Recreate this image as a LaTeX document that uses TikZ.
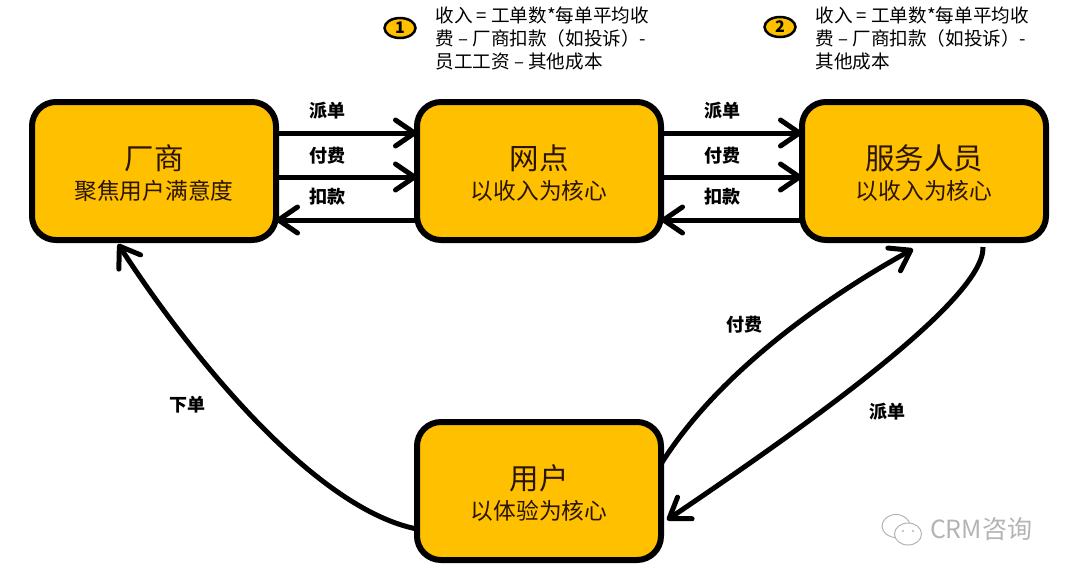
\documentclass[tikz,border=0pt]{standalone}
\usepackage{fontspec}
\setmainfont{Noto Sans CJK SC}
\usetikzlibrary{positioning,arrows.meta,shapes.geometric}
\definecolor{hubyellow}{HTML}{FFC000}
\definecolor{hubink}{HTML}{2A1500}
\definecolor{markgray}{HTML}{B4B4B4}
\newcommand{\fs}[1]{\fontsize{#1}{#1}\selectfont}
\newcommand{\hubtext}[2]{\rule{0pt}{29pt}\fs{29.5}#1\\[8pt]\fs{22.7}#2}
\begin{document}
\begin{tikzpicture}[x=1pt,y=-1pt]
\tikzstyle{every node}=[inner sep=0pt,outer sep=0pt]
\tikzstyle{hub}=[draw=black,fill=hubyellow,line width=6pt,rounded corners=24pt,
                 minimum width=244pt,minimum height=138pt,align=center,text=hubink]
\tikzstyle{flow}=[line width=5pt,-{Straight Barb[length=19pt,width=26pt,round]}]
\tikzstyle{curveflow}=[line width=5pt,-{Straight Barb[length=19pt,width=26pt,round]}]
\tikzstyle{lbl}=[font=\fs{18}\bfseries,text=black]
\tikzstyle{note}=[font=\fs{18.6},align=left,text=black]
\tikzstyle{badge}=[draw=black,fill=hubyellow,line width=2.5pt,ellipse,
                   minimum width=31pt,minimum height=20pt,font=\fs{16}\bfseries]
\tikzstyle{wechat}=[draw=markgray,line width=1pt,fill=white,ellipse]
\useasboundingbox (0,0) rectangle (1070,576);
\fill[white] (0,0) rectangle (1070,576);
\node[hub] (changshang) at (154,171) {\hubtext{厂商}{聚焦用户满意度}};
\node[hub,right=141pt of changshang] (wangdian) {\hubtext{网点}{以收入为核心}};
\node[hub,right=141pt of wangdian] (fuwu) {\hubtext{服务人员}{以收入为核心}};
\node[hub,below=182pt of wangdian] (yonghu) {\hubtext{用户}{以体验为核心}};
\draw[flow] ([yshift=38pt]changshang.east) -- ([yshift=38pt]wangdian.west);
\draw[flow] ([yshift=-6pt]changshang.east) -- ([yshift=-6pt]wangdian.west);
\draw[flow] ([yshift=-49pt]wangdian.west) -- ([yshift=-49pt]changshang.east);
\draw[flow] ([yshift=38pt]wangdian.east) -- ([yshift=38pt]fuwu.west);
\draw[flow] ([yshift=-6pt]wangdian.east) -- ([yshift=-6pt]fuwu.west);
\draw[flow] ([yshift=-49pt]fuwu.west) -- ([yshift=-49pt]wangdian.east);
\draw[curveflow] ([yshift=-38pt]yonghu.west) .. controls (320,510) and (200,370) .. ([xshift=-36pt,yshift=-4pt]changshang.south);
\draw[curveflow] ([yshift=27pt]yonghu.east) .. controls (720,370) and (830,295) .. ([xshift=-11pt,yshift=-9pt]fuwu.south);
\draw[curveflow] ([shift={(59pt,-7pt)}]fuwu.south) .. controls (985,300) and (800,430) .. ([yshift=-29pt,xshift=6pt]yonghu.east);
\node[lbl] (paidan1) at (327,111) {派单};
\node[lbl] (fufei1) at (327,156) {付费};
\node[lbl] (koukuan1) at (327,197) {扣款};
\node[lbl] (paidan2) at (722,111) {派单};
\node[lbl] (fufei2) at (722,156) {付费};
\node[lbl] (koukuan2) at (722,197) {扣款};
\node[lbl] (xiadan) at (187,405) {下单};
\node[lbl] (fufei3) at (744,325) {付费};
\node[lbl] (paidan3) at (887,412) {派单};
\node[badge] (badge1) at (400,28) {1};
\node[badge] (badge2) at (780,27) {2};
\node[note,right=20pt of badge1,yshift=-10pt] (note1)
  {收入 = 工单数*每单平均收\\[4.4pt]费 – 厂商扣款（如投诉）-\\[4.4pt]员工工资 – 其他成本};
\node[note,right=20pt of badge2,yshift=-11pt] (note2)
  {收入 = 工单数*每单平均收\\[4.4pt]费 – 厂商扣款（如投诉）-\\[4.4pt]其他成本};
\node[wechat,minimum width=28pt,minimum height=23pt] (bubble1) at (896,526) {};
\node[wechat,minimum width=27pt,minimum height=22pt] (bubble2) at (908,534) {};
\fill[markgray] (903,531) circle (1.2pt) (913,531) circle (1.2pt);
\node[font=\fs{25},text=markgray,anchor=west] (mark) at (930,529) {CRM咨询};
\end{tikzpicture}
\end{document}
